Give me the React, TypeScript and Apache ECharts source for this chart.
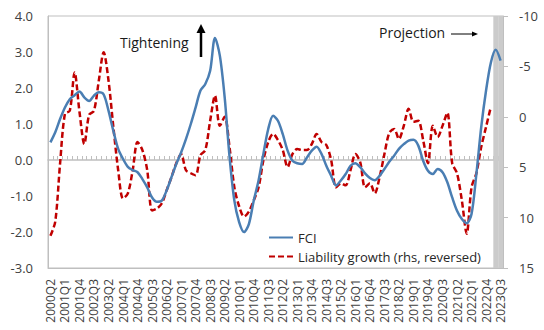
import React, { useEffect, useRef } from "react";
import * as echarts from "echarts";

// Quarterly categories 2000Q2 .. 2023Q3
const quarters: string[] = [];
for (let y = 2000; y <= 2023; y++) {
  for (let q = 1; q <= 4; q++) {
    if (y === 2000 && q < 2) continue;
    if (y === 2023 && q > 3) continue;
    quarters.push(`${y}Q${q}`);
  }
}

const fciValues: number[] = [
  0.49, 0.77, 1.14, 1.46, 1.69, 1.8, 1.9, 1.74, 1.64, 1.79,
  1.88, 1.82, 1.37, 0.81, 0.31, 0.03, -0.19, -0.28, -0.34, -0.53,
  -0.76, -1.04, -1.16, -1.13, -0.85, -0.48, -0.11, 0.21, 0.58, 1.0,
  1.46, 1.93, 2.11, 2.48, 3.39, 2.9, 1.74, 0.1, -1.13, -1.73,
  -2.0, -1.78, -1.13, -0.57, 0.17, 0.86, 1.23, 1.09, 0.72, 0.26,
  -0.02, -0.09, -0.11, 0.07, 0.26, 0.37, 0.17, -0.16, -0.44, -0.71,
  -0.57, -0.39, -0.16, -0.09, -0.2, -0.37, -0.5, -0.56, -0.44, -0.25,
  -0.05, 0.12, 0.31, 0.44, 0.54, 0.56, 0.4, -0.02, -0.3, -0.39,
  -0.25, -0.34, -0.62, -1.04, -1.41, -1.64, -1.76, -1.5, -0.39, 0.91,
  1.93, 2.71, 3.06, 2.76,
];

const liabilityValues: (number | null)[] = [
  11.8, 10.4, 4.6, -0.3, -0.6, -4.4, -0.5, 2.7, -0.2, -0.6,
  -3.6, -6.4, -3.6, 1.0, 5.3, 8.1, 7.6, 5.3, 2.5, 3.3,
  5.3, 9.3, 9.1, 8.6, 7.3, 6.0, 4.6, 3.7, 5.3, 5.6,
  5.8, 3.8, 3.3, 0.4, -2.1, 0.9, 0.0, 3.0, 7.0, 8.9,
  9.9, 9.4, 8.3, 7.0, 4.3, 2.5, 1.7, 2.3, 3.3, 5.0,
  3.7, 3.2, 3.3, 3.3, 2.7, 1.7, 2.5, 2.8, 4.3, 7.0,
  6.6, 6.8, 5.3, 3.7, 4.5, 7.0, 6.6, 7.6, 6.0, 3.7,
  1.6, 1.2, 2.2, 0.9, -0.8, 0.5, 0.4, 2.3, 4.6, 0.9,
  2.0, 0.9, -0.4, 4.6, 5.6, 8.3, 11.6, 7.0, 5.6, 3.0,
  1.0, -1.0, null, null,
];

const projectionQuarters: string[] = ["2023Q2", "2023Q3"];

const leftTicks = { min: -3, max: 4, interval: 1 };
const rightTicks = { min: -10, max: 15, interval: 5 };

const FONT = "'Open Sans', 'Noto Sans', sans-serif";
const AXIS_GRAY = "#bfbfbf";
const TEXT = "#404040";

export default function App() {
  const ref = useRef<HTMLDivElement>(null);

  useEffect(() => {
    if (!ref.current) return;
    const chart = echarts.init(ref.current, undefined, { renderer: "svg" });

    const bandTop = quarters.map((q) => (projectionQuarters.includes(q) ? leftTicks.max : null));
    const bandBottom = quarters.map((q) => (projectionQuarters.includes(q) ? leftTicks.min : null));

    chart.setOption({
      animation: false,
      textStyle: { fontFamily: FONT },
      grid: {
        left: 48,
        right: 41,
        top: 16,
        bottom: 62,
        show: true,
        borderColor: AXIS_GRAY,
        borderWidth: 1,
        backgroundColor: "transparent",
      },
      legend: {
        data: ["FCI", "Liability growth (rhs, reversed)"],
        orient: "vertical",
        left: 263,
        top: 226,
        itemWidth: 24,
        itemHeight: 12,
        itemGap: 6,
        itemStyle: { opacity: 0 },
        textStyle: { fontFamily: FONT, fontSize: 13, color: "#262626" },
      },
      xAxis: [
        {
          type: "category",
          data: quarters,
          position: "bottom",
          boundaryGap: true,
          axisLine: { onZero: false, lineStyle: { color: AXIS_GRAY } },
          axisTick: { show: false },
          axisLabel: {
            interval: 2,
            rotate: 90,
            fontSize: 12,
            margin: 11,
            color: TEXT,
            fontFamily: FONT,
          },
          splitLine: { show: false },
        },
        {
          type: "category",
          data: quarters,
          position: "bottom",
          boundaryGap: true,
          axisLine: { onZero: true, onZeroAxisIndex: 0, lineStyle: { color: AXIS_GRAY, width: 1.5 } },
          axisTick: { show: true, interval: 0, inside: true, length: 4, lineStyle: { color: AXIS_GRAY } },
          axisLabel: { show: false },
          splitLine: { show: false },
        },
      ],
      yAxis: [
        {
          type: "value",
          position: "left",
          min: leftTicks.min,
          max: leftTicks.max,
          interval: leftTicks.interval,
          axisLine: { show: true, lineStyle: { color: AXIS_GRAY } },
          axisTick: { show: false },
          splitLine: { show: false },
          axisLabel: {
            margin: 15,
            fontSize: 13,
            color: TEXT,
            fontFamily: FONT,
            formatter: (v: number) => v.toFixed(1),
          },
        },
        {
          type: "value",
          position: "right",
          inverse: true,
          min: rightTicks.min,
          max: rightTicks.max,
          interval: rightTicks.interval,
          axisLine: { show: true, onZero: false, lineStyle: { color: AXIS_GRAY } },
          axisTick: { show: true, length: 5, lineStyle: { color: AXIS_GRAY } },
          splitLine: { show: false },
          axisLabel: {
            margin: 16,
            fontSize: 13,
            color: TEXT,
            fontFamily: FONT,
          },
        },
      ],
      series: [
        {
          name: "projection-top",
          type: "bar",
          xAxisIndex: 0,
          yAxisIndex: 0,
          stack: "band",
          data: bandTop,
          barWidth: "100%",
          itemStyle: { color: "#cbcbcb" },
          silent: true,
          z: 1,
        },
        {
          name: "projection-bottom",
          type: "bar",
          xAxisIndex: 0,
          yAxisIndex: 0,
          stack: "band",
          data: bandBottom,
          barWidth: "100%",
          itemStyle: { color: "#cbcbcb" },
          silent: true,
          z: 1,
        },
        {
          name: "FCI",
          type: "line",
          xAxisIndex: 0,
          yAxisIndex: 0,
          data: fciValues,
          smooth: 0.3,
          showSymbol: false,
          symbol: "none",
          lineStyle: { color: "#4a7eb3", width: 2.5 },
          itemStyle: { color: "#4a7eb3" },
          z: 4,
        },
        {
          name: "Liability growth (rhs, reversed)",
          type: "line",
          xAxisIndex: 0,
          yAxisIndex: 1,
          data: liabilityValues,
          smooth: 0.3,
          showSymbol: false,
          symbol: "none",
          lineStyle: { color: "#c00000", width: 2.5, type: [6, 3] },
          itemStyle: { color: "#c00000" },
          z: 3,
        },
      ],
      graphic: [
        {
          type: "text",
          x: 120,
          y: 42,
          style: {
            text: "Tightening",
            fontSize: 14,
            fontFamily: FONT,
            fill: "#1a1a1a",
            verticalAlign: "middle",
          },
        },
        {
          type: "line",
          shape: { x1: 201, y1: 57, x2: 201, y2: 31 },
          style: { stroke: "#000", lineWidth: 2.5 },
        },
        {
          type: "polygon",
          shape: { points: [[196.5, 33], [205.5, 33], [201, 24]] },
          style: { fill: "#000" },
        },
        {
          type: "text",
          x: 379,
          y: 32,
          style: {
            text: "Projection",
            fontSize: 14,
            fontFamily: FONT,
            fill: "#1a1a1a",
            verticalAlign: "middle",
          },
        },
        {
          type: "line",
          shape: { x1: 451, y1: 34, x2: 473, y2: 34 },
          style: { stroke: "#000", lineWidth: 1 },
        },
        {
          type: "polygon",
          shape: { points: [[472, 31.5], [478, 34], [472, 36.5]] },
          style: { fill: "#000" },
        },
      ],
    });

    return () => chart.dispose();
  }, []);

  return <div ref={ref} style={{ width: 544, height: 330, position: "absolute", left: 0, top: 0 }} />;
}
